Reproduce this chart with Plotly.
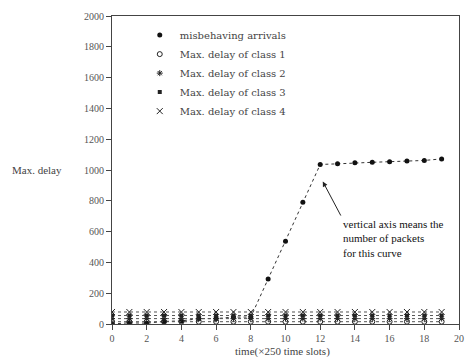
import plotly.graph_objects as go

x = list(range(20))
misbehaving = [0, 8, 5, 17, 20, 35, 35, 45, 45, 293, 538, 790, 1036, 1040, 1047, 1050, 1054, 1058, 1062, 1072]
class1 = [15] * 20
class2 = [35] * 20
class3 = [55] * 20
class4 = [78] * 20

names = ["misbehaving arrivals", "Max. delay of class 1", "Max. delay of class 2",
         "Max. delay of class 3", "Max. delay of class 4"]
x_ticks = [0, 2, 4, 6, 8, 10, 12, 14, 16, 18, 20]
y_ticks = [0, 200, 400, 600, 800, 1000, 1200, 1400, 1600, 1800, 2000]

serif = "Liberation Serif, DejaVu Serif, serif"
wide_serif = "DejaVu Serif, serif"

series = [misbehaving, class1, class2, class3, class4]
markers = [
    dict(symbol="circle", size=5, color="#111"),
    dict(symbol="circle-open", size=5, color="#222"),
    dict(symbol="asterisk-open", size=5, color="#222"),
    dict(symbol="square", size=4, color="#222"),
    dict(symbol="x-thin-open", size=6, color="#222", line=dict(width=1)),
]
line_colors = ["#333", "#555", "#555", "#555", "#555"]

fig = go.Figure()
for name, ys, mk, lc in zip(names, series, markers, line_colors):
    fig.add_trace(go.Scatter(x=x, y=ys, name=name, mode="lines+markers", showlegend=False,
                             line=dict(color=lc, width=1, dash="dot"), marker=mk))
# legend entries show only the marker, as in the reference
for name, mk in zip(names, markers):
    fig.add_trace(go.Scatter(x=[None], y=[None], name=name, mode="markers", marker=mk))

axis_common = dict(showgrid=False, zeroline=False, showline=True, linecolor="#444", linewidth=1,
                   mirror=True, ticks="outside", ticklen=5, tickcolor="#444",
                   tickfont=dict(family=serif, size=10, color="#555"))

fig.update_xaxes(range=[0, 20], tickvals=x_ticks, **axis_common)
fig.update_yaxes(range=[0, 2000], tickvals=y_ticks, **axis_common)

fig.add_annotation(text="Max. delay", xref="paper", x=0, xanchor="right", xshift=-48,
                   yref="y", y=1000, showarrow=False,
                   font=dict(family=serif, size=11, color="#444"))
fig.add_annotation(text="time(×250 time slots)", xref="paper", x=0.49, yref="paper", y=0,
                   yanchor="top", yshift=-19, showarrow=False,
                   font=dict(family=serif, size=11, color="#444"))
fig.add_annotation(text="vertical axis means the<br>number of packets<br>for this curve",
                   x=12.15, y=925, ax=18, ay=34, xanchor="left", yanchor="top", align="left",
                   showarrow=True, arrowhead=2, arrowsize=1, arrowwidth=1, arrowcolor="#222",
                   font=dict(family=serif, size=11, color="#111"))

fig.update_layout(
    width=474, height=357,
    margin=dict(l=112, r=10, t=12, b=33),
    paper_bgcolor="white", plot_bgcolor="white",
    font=dict(family=serif, color="#444"),
    legend=dict(x=0.08, y=0.985, xanchor="left", yanchor="top", bgcolor="rgba(0,0,0,0)",
                font=dict(family=wide_serif, size=10, color="#444"), itemwidth=30,
                tracegroupgap=0),
)

fig.write_html("out.html")
